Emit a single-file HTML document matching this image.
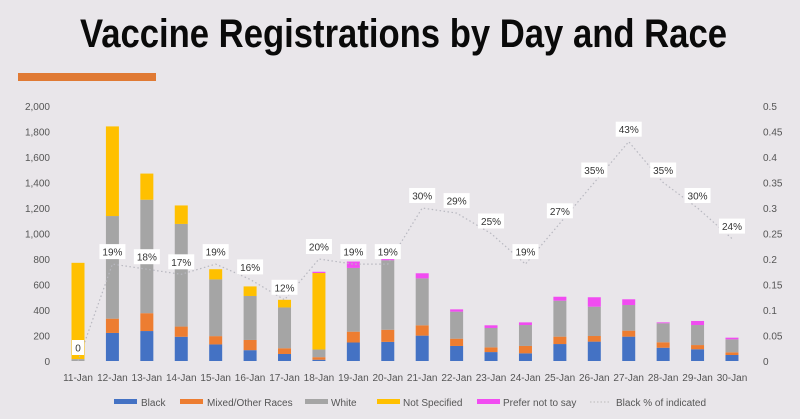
<!DOCTYPE html>
<html><head><meta charset="utf-8"><style>
html,body{margin:0;padding:0;background:#e9e6ea;}
svg{display:block;font-family:"Liberation Sans",sans-serif;}
</style></head><body>
<svg width="800" height="419" viewBox="0 0 800 419" xmlns="http://www.w3.org/2000/svg">
<rect width="800" height="419" fill="#e9e6ea"/>
<text x="80" y="47" font-size="40" font-weight="bold" fill="#0a0a0a" textLength="647" lengthAdjust="spacingAndGlyphs">Vaccine Registrations by Day and Race</text>
<rect x="18" y="73" width="138" height="8" fill="#e07a34"/>
<g font-size="10" fill="#555" text-anchor="end" id="la"></g>
<g font-size="10" fill="#555" id="ra"></g>
<g id="bars"></g>
<g id="line"></g>
<g id="xl" font-size="10" fill="#555" text-anchor="middle"></g>
<g font-size="10" fill="#555">
<rect x="114" y="399" width="23" height="5" fill="#4472c4"/><text x="141" y="406">Black</text>
<rect x="180" y="399" width="23" height="5" fill="#ed7d31"/><text x="207" y="406">Mixed/Other Races</text>
<rect x="305" y="399" width="23" height="5" fill="#a5a5a5"/><text x="331" y="406">White</text>
<rect x="377" y="399" width="23" height="5" fill="#ffc000"/><text x="403" y="406">Not Specified</text>
<rect x="477" y="399" width="23" height="5" fill="#f14cf1"/><text x="503" y="406">Prefer not to say</text>
<line x1="590" y1="402" x2="610" y2="402" stroke="#bbb" stroke-dasharray="1.5,2"/><text x="616" y="406">Black % of indicated</text>
</g>
<script>
var ns="http://www.w3.org/2000/svg";
function el(p,t,a,tx){var e=document.createElementNS(ns,t);for(var k in a)e.setAttribute(k,a[k]);if(tx!=null)e.textContent=tx;document.getElementById(p).appendChild(e);return e;}
var y0=361,sc=255/2000;
var la=["0","200","400","600","800","1,000","1,200","1,400","1,600","1,800","2,000"];
for(var i=0;i<=10;i++){el("la","text",{x:50,y:y0-i*25.5+4},la[i]);}
var ra=["0","0.05","0.1","0.15","0.2","0.25","0.3","0.35","0.4","0.45","0.5"];
for(var i=0;i<=10;i++){el("ra","text",{x:763,y:y0-i*25.5+4},ra[i]);}
// cumulative tops: black, mixed, white, NS, pink
var d=[[0,0,15,770,770],[220,332,1137,1840,1840],[235,375,1265,1470,1470],[190,270,1075,1220,1220],[130,195,640,720,720],[85,165,510,585,585],[55,100,420,480,480],[10,30,90,690,700],[145,230,730,730,780],[150,245,790,790,810],[199,280,648,648,688],[118,175,387,387,405],[70,107,259,259,280],[60,118,282,282,303],[133,191,473,473,504],[152,196,426,426,500],[191,238,439,439,484],[104,147,296,296,303],[92,125,282,282,314],[47,68,170,170,183]];
var cols=["#4472c4","#ed7d31","#a5a5a5","#ffc000","#f14cf1"];
var pct=[0,19,18,17,19,16,12,20,19,19,30,29,25,19,27,35,43,35,30,24];
var pts=[];
for(var i=0;i<20;i++){
 var cx=78+i*34.42;var prev=0;
 for(var j=0;j<5;j++){var v=d[i][j];if(v>prev){el("bars","rect",{x:cx-6.5,y:y0-v*sc,width:13,height:(v-prev)*sc,fill:cols[j]});}prev=Math.max(prev,v);}
 var lab=(i+11)+"-Jan";el("xl","text",{x:cx,y:381},lab);
 var py=y0-pct[i]/100*510;pts.push(cx+","+py);
}
el("line","polyline",{points:pts.join(" "),fill:"none",stroke:"#b8b8c0","stroke-width":1.2,"stroke-dasharray":"1.5,2.5"});
for(var i=0;i<20;i++){
 var cx=78+i*34.42;var py=(i==0?360:y0-pct[i]/100*510)-12;
 var t=i==0?"0":pct[i]+"%";var w=i==0?12:26;
 el("line","rect",{x:cx-w/2,y:py-8,width:w,height:15,fill:"#fff"});
 el("line","text",{x:cx,y:py+3.5,"font-size":10,fill:"#333","text-anchor":"middle"},t);
}
</script>
</svg>
</body></html>
